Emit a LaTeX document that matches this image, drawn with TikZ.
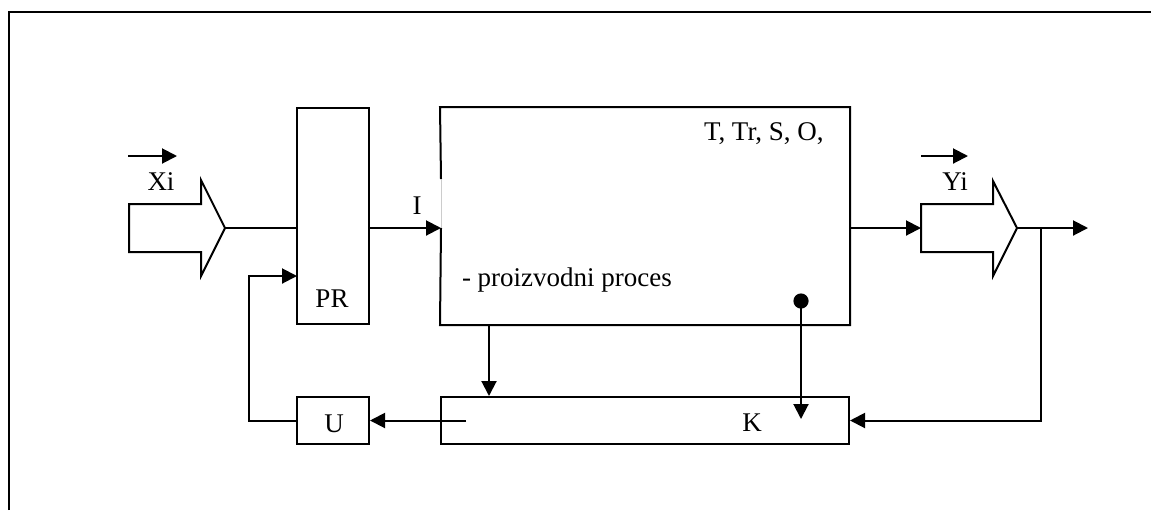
\documentclass[tikz,border=0pt]{standalone}
\usepackage{fontspec}
\setmainfont{Liberation Serif}
\usetikzlibrary{arrows.meta}
\begin{document}
\begin{tikzpicture}[x=0.5pt,y=-0.5pt,
  line width=1pt,
  box/.style={draw,rectangle,inner sep=0pt,line width=1pt},
  lbl/.style={inner sep=0pt,anchor=base,font=\fontsize{13.5}{16}\selectfont},
  arr/.style={-{Triangle[length=7.5pt,width=7.5pt]}}]
\useasboundingbox (0,0) rectangle (1151,510);
% outer frame (open at right and bottom)
\draw[line width=1.3pt] (9,510) -- (9,12) -- (1151,12);
% boxes
\node[box,minimum width=36pt,minimum height=108pt] (pr) at (333,216) {};
\node[minimum width=204pt,minimum height=108pt,inner sep=0pt] (proc) at (645,216) {};
\node[box,minimum width=204pt,minimum height=23.5pt] (k) at (645,420.5) {};
\node[box,minimum width=36pt,minimum height=23.5pt] (u) at (333,420.5) {};
% main box outline with its small gap on the left side
\coordinate (gapT) at (441,179);
\coordinate (procin) at (441,228);
\draw (gapT) -- (proc.north west) -- (proc.north east) -- (proc.south east) -- (proc.south west) -- (procin);
\draw[line width=0.4pt,black!20] (gapT) -- (procin);
% input block arrow Xi
\coordinate (xtip) at (225,228);
\draw (xtip) -- (201,180) -- (201,204) -- (129,204) -- (129,252) -- (201,252) -- (201,276) -- cycle;
% output block arrow Yi
\coordinate (ytail) at (921,228);
\coordinate (ytip) at (1017,228);
\draw (ytip) -- (993,181) -- (993,204) -- (ytail |- 0,204) -- (ytail |- 0,252) -- (993,252) -- (993,276) -- cycle;
% vector arrows above Xi and Yi
\coordinate (xa1) at (128,156); \coordinate (xa2) at (177,156);
\coordinate (ya1) at (921,156); \coordinate (ya2) at (968,156);
\draw[arr] (xa1) -- (xa2);
\draw[arr] (ya1) -- (ya2);
% labels
\node[lbl] (xi) at (161,190) {Xi};
\node[lbl] (yi) at (955,190) {Yi};
\node[lbl] (il) at (417,214) {I};
\node[lbl,anchor=base west] (tl) at (703,140) {T, Tr, S, O,};
\node[lbl,anchor=base west] (pp) at (461,286) {- proizvodni proces};
\node[lbl] (prl) at (332,307) {PR};
\node[lbl] (ul) at (334,432) {U};
\node[lbl] (kl) at (752,431) {K};
% connectors
\draw (xtip) -- (pr.west |- xtip);
\draw[arr] (pr.east |- procin) -- (procin);
\draw[arr] (proc.east |- ytail) -- (ytail);
\coordinate (out) at (1088,228);
\draw[arr] (ytip) -- (out);
\coordinate (br) at (1041,228);
\draw[arr] (br) |- (k.east);
\coordinate (fb) at (249,420.5);
\coordinate (prin) at (297,276);
\draw[arr] (u.west) -- (fb) |- (prin);
\coordinate (kin) at (466,420.5);
\draw[arr] (kin) -- (u.east);
\coordinate (d1) at (489,324);
\draw[arr] (d1) -- (d1 |- k.north);
\coordinate (dot) at (801,301);
\coordinate (kd) at (801,419);
\fill (dot) circle[radius=3.8pt];
\draw[arr] (dot) -- (kd);
\end{tikzpicture}
\end{document}
